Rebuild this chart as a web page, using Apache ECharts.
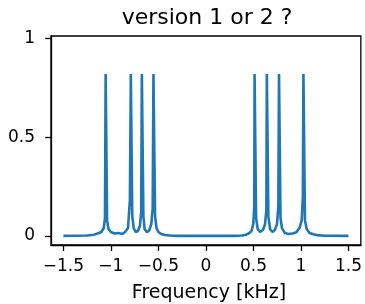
<!DOCTYPE html>
<html>
<head>
<meta charset="utf-8">
<script src="https://cdn.jsdelivr.net/npm/echarts@6/dist/echarts.min.js"></script>
<style>
  html, body { margin: 0; padding: 0; background: #fff; }
  #spec { width: 365px; height: 304px; }
</style>
</head>
<body>
<div id="spec"></div>
<script>
  'use strict'

  /*-----spectrum data-----*/
  var freqX = [
    -1.5, -1.25, -1.18, -1.14, -1.10, -1.075, -1.062, -1.055, -1.047, -1.040, -1.025, -1.0,
    -0.96, -0.92, -0.88, -0.85, -0.82, -0.80, -0.790, -0.782, -0.775, -0.76, -0.74,
    -0.715, -0.695, -0.681, -0.674, -0.666, -0.658, -0.645, -0.62,
    -0.595, -0.575, -0.560, -0.552, -0.544, -0.535, -0.52, -0.50, -0.47, -0.43, -0.38, -0.3,
    0.3, 0.38, 0.42, 0.45, 0.48, 0.498, 0.509, 0.512, 0.520, 0.528, 0.545, 0.57,
    0.60, 0.622, 0.636, 0.641, 0.649, 0.657, 0.675, 0.70,
    0.725, 0.748, 0.762, 0.769, 0.777, 0.785, 0.80, 0.83, 0.87, 0.91, 0.95,
    0.985, 1.008, 1.020, 1.026, 1.034, 1.042, 1.06, 1.09, 1.13, 1.17, 1.25, 1.5
  ];
  var magY = [
    0, 0.002, 0.006, 0.012, 0.02, 0.04, 0.09, 0.82, 0.82, 0.08, 0.035, 0.02,
    0.012, 0.015, 0.01, 0.02, 0.04, 0.18, 0.82, 0.82, 0.1, 0.04, 0.02,
    0.025, 0.05, 0.12, 0.82, 0.82, 0.1, 0.035, 0.018,
    0.03, 0.06, 0.14, 0.82, 0.82, 0.1, 0.04, 0.02, 0.01, 0.005, 0.002, 0,
    0, 0.002, 0.006, 0.012, 0.025, 0.06, 0.15, 0.82, 0.82, 0.09, 0.035, 0.02,
    0.03, 0.06, 0.13, 0.82, 0.82, 0.1, 0.035, 0.02,
    0.03, 0.06, 0.15, 0.82, 0.82, 0.09, 0.04, 0.015, 0.01, 0.012, 0.018,
    0.04, 0.08, 0.2, 0.82, 0.82, 0.08, 0.035, 0.015, 0.008, 0.004, 0.001, 0
  ];
  var xTicks = [-1.5, -1, -0.5, 0, 0.5, 1, 1.5];
  var yTicks = [0, 0.5, 1];

  var points = freqX.map(function (f, i) { return [f, magY[i]]; });
  var font = 'DejaVu Sans';

  var chart = echarts.init(document.getElementById('spec'));
  chart.setOption({
    animation: false,
    grid: {
      left: 51, top: 36, width: 313, height: 209,
      show: true, borderColor: '#000', borderWidth: 1.3, backgroundColor: 'transparent'
    },
    xAxis: {
      type: 'value', min: -1.63, max: 1.63,
      axisLine: { show: true, onZero: false, lineStyle: { color: '#000', width: 1.3 } },
      axisTick: { show: true, length: 6, customValues: xTicks, lineStyle: { color: '#000', width: 1.3 } },
      axisLabel: {
        customValues: xTicks, margin: 13, color: '#000', fontSize: 17, fontFamily: font,
        formatter: function (v) { return String(v).replace('-', '\u2212'); }
      },
      splitLine: { show: false }
    },
    yAxis: {
      type: 'value', min: -0.046, max: 1.013,
      axisLine: { show: true, onZero: false, lineStyle: { color: '#000', width: 1.3 } },
      axisTick: { show: true, length: 6, customValues: yTicks, lineStyle: { color: '#000', width: 1.3 } },
      axisLabel: { customValues: yTicks, margin: 16, color: '#000', fontSize: 17, fontFamily: font },
      splitLine: { show: false }
    },
    graphic: [
      {
        type: 'text', x: 207, y: 18,
        style: { text: 'version 1 or 2 ?', fill: '#000', font: '22px "DejaVu Sans"', textAlign: 'center', textVerticalAlign: 'middle' }
      },
      {
        type: 'text', x: 209, y: 293,
        style: { text: 'Frequency [kHz]', fill: '#000', font: '19px "DejaVu Sans"', textAlign: 'center', textVerticalAlign: 'middle' }
      }
    ],
    series: [{
      type: 'line', data: points, showSymbol: false, smooth: false,
      lineStyle: { color: '#1f77b4', width: 2.6 }
    }]
  });
</script>
</body>
</html>
